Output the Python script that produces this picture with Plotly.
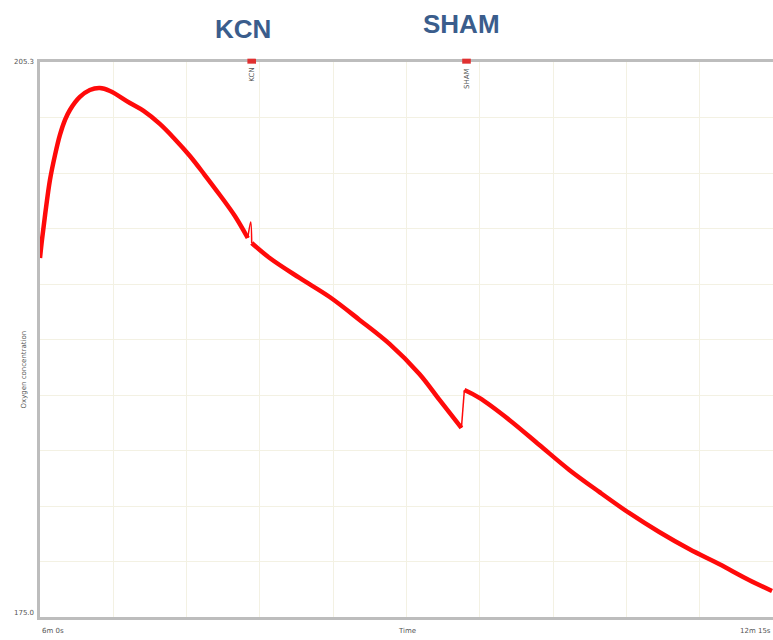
import plotly.graph_objects as go

# Oxygen trace (time in seconds, concentration in arbitrary units)
# Segment before the KCN addition
time_a = [360.0, 361.0, 362.6, 365.1, 367.7, 370.2, 372.8, 375.3, 380.4, 385.5,
          390.6, 395.8, 406.0, 413.0, 421.3, 428.9, 436.7, 444.3, 452.0, 459.7, 466.3]
oxy_a = [194.60, 195.58, 196.95, 198.86, 200.23, 201.32, 202.14, 202.68, 203.39, 203.77,
         203.88, 203.72, 203.06, 202.63, 201.92, 201.10, 200.17, 199.13, 198.04, 196.89, 195.69]
# Injection artefact at KCN
time_k = [466.3, 467.8, 468.3]
oxy_k = [195.69, 196.57, 195.42]
# Segment between KCN and SHAM
time_b = [468.3, 477.5, 492.8, 508.2, 523.5, 538.8, 554.1, 564.4, 575.6]
oxy_b = [195.42, 194.60, 193.51, 192.47, 191.22, 189.91, 188.27, 186.85, 185.32]
# Injection artefact at SHAM
time_s = [575.6, 577.1]
oxy_s = [185.32, 187.39]
# Segment after SHAM
time_c = [577.1, 584.8, 600.1, 615.5, 630.8, 646.1, 661.4, 676.8, 692.1, 707.4,
          722.7, 734.5]
oxy_c = [187.39, 186.96, 185.76, 184.39, 183.03, 181.83, 180.68, 179.64, 178.71, 177.89,
         177.02, 176.42]

# Additions
event_names = ["KCN", "SHAM"]
event_times = [468.3, 578.2]

x_min, x_max = 360.0, 735.0
y_min, y_max = 175.0, 205.3
x_grid = [x_min + i * (x_max - x_min) / 10 for i in range(11)]
y_grid = [y_min + i * (y_max - y_min) / 10 for i in range(11)]

label_font = dict(family="DejaVu Sans", size=7, color="#555555")
head_font = dict(family="Liberation Sans", size=26, color="#3a5d8c")

fig = go.Figure()
for xs, ys, w in [(time_a, oxy_a, 4.5), (time_b, oxy_b, 4.5), (time_c, oxy_c, 4.5),
                  (time_k, oxy_k, 1.5), (time_s, oxy_s, 1.5)]:
    fig.add_trace(go.Scatter(
        x=xs, y=ys, mode="lines",
        line=dict(color="#ff0a0a", width=w, shape="spline", smoothing=1.0),
        hoverinfo="skip", showlegend=False,
    ))

fig.update_layout(
    width=773, height=640,
    margin=dict(l=40, r=0, t=62, b=23),
    paper_bgcolor="white", plot_bgcolor="white",
    xaxis=dict(range=[x_min, x_max], tickmode="array", tickvals=x_grid,
               showticklabels=False, ticks="", showgrid=True,
               gridcolor="#f3f1e3", gridwidth=1, zeroline=False,
               showline=True, linecolor="#bdbdbd", linewidth=3, mirror=True),
    yaxis=dict(range=[y_min, y_max], tickmode="array", tickvals=y_grid,
               showticklabels=False, ticks="", showgrid=True,
               gridcolor="#f3f1e3", gridwidth=1, zeroline=False,
               showline=True, linecolor="#bdbdbd", linewidth=3),
)

annotations = [
    dict(x=0, y=y_max, xref="paper", yref="y", text="205.3", showarrow=False,
         xanchor="right", yanchor="middle", xshift=-4, font=label_font),
    dict(x=0, y=y_min, xref="paper", yref="y", text="175.0", showarrow=False,
         xanchor="right", yanchor="middle", xshift=-4, yshift=4, font=label_font),
    dict(x=0, y=0.5, xref="paper", yref="paper", text="Oxygen concentration",
         showarrow=False, textangle=-90, xanchor="center", yanchor="middle",
         xshift=-17, yshift=-30, font=label_font),
    dict(x=x_min, y=0, xref="x", yref="paper", text="6m 0s", showarrow=False,
         xanchor="left", yanchor="top", yshift=-8, font=label_font),
    dict(x=(x_min + x_max) / 2, y=0, xref="x", yref="paper", text="Time",
         showarrow=False, xanchor="center", yanchor="top", yshift=-8, font=label_font),
    dict(x=x_max, y=0, xref="x", yref="paper", text="12m 15s", showarrow=False,
         xanchor="right", yanchor="top", yshift=-8, font=label_font),
]

for name, t in zip(event_names, event_times):
    # small red flag on the top edge and a vertical event label below it
    fig.add_shape(type="rect", xref="x", yref="paper", x0=t - 2.2, x1=t + 2.2,
                  y0=0.997, y1=1.006, fillcolor="#e03030", line=dict(width=0))
    annotations.append(dict(x=t, y=1, xref="x", yref="paper", text=name,
                            showarrow=False, textangle=-90, xanchor="center",
                            yanchor="top", yshift=-4, font=label_font))
    annotations.append(dict(x=t, y=1, xref="x", yref="paper", text="<b>" + name + "</b>",
                            showarrow=False, xanchor="center", yanchor="bottom",
                            xshift=-9 if name == "KCN" else -5,
                            yshift=16 if name == "KCN" else 21, font=head_font))

fig.update_layout(annotations=annotations)
fig.write_html("out.html")
